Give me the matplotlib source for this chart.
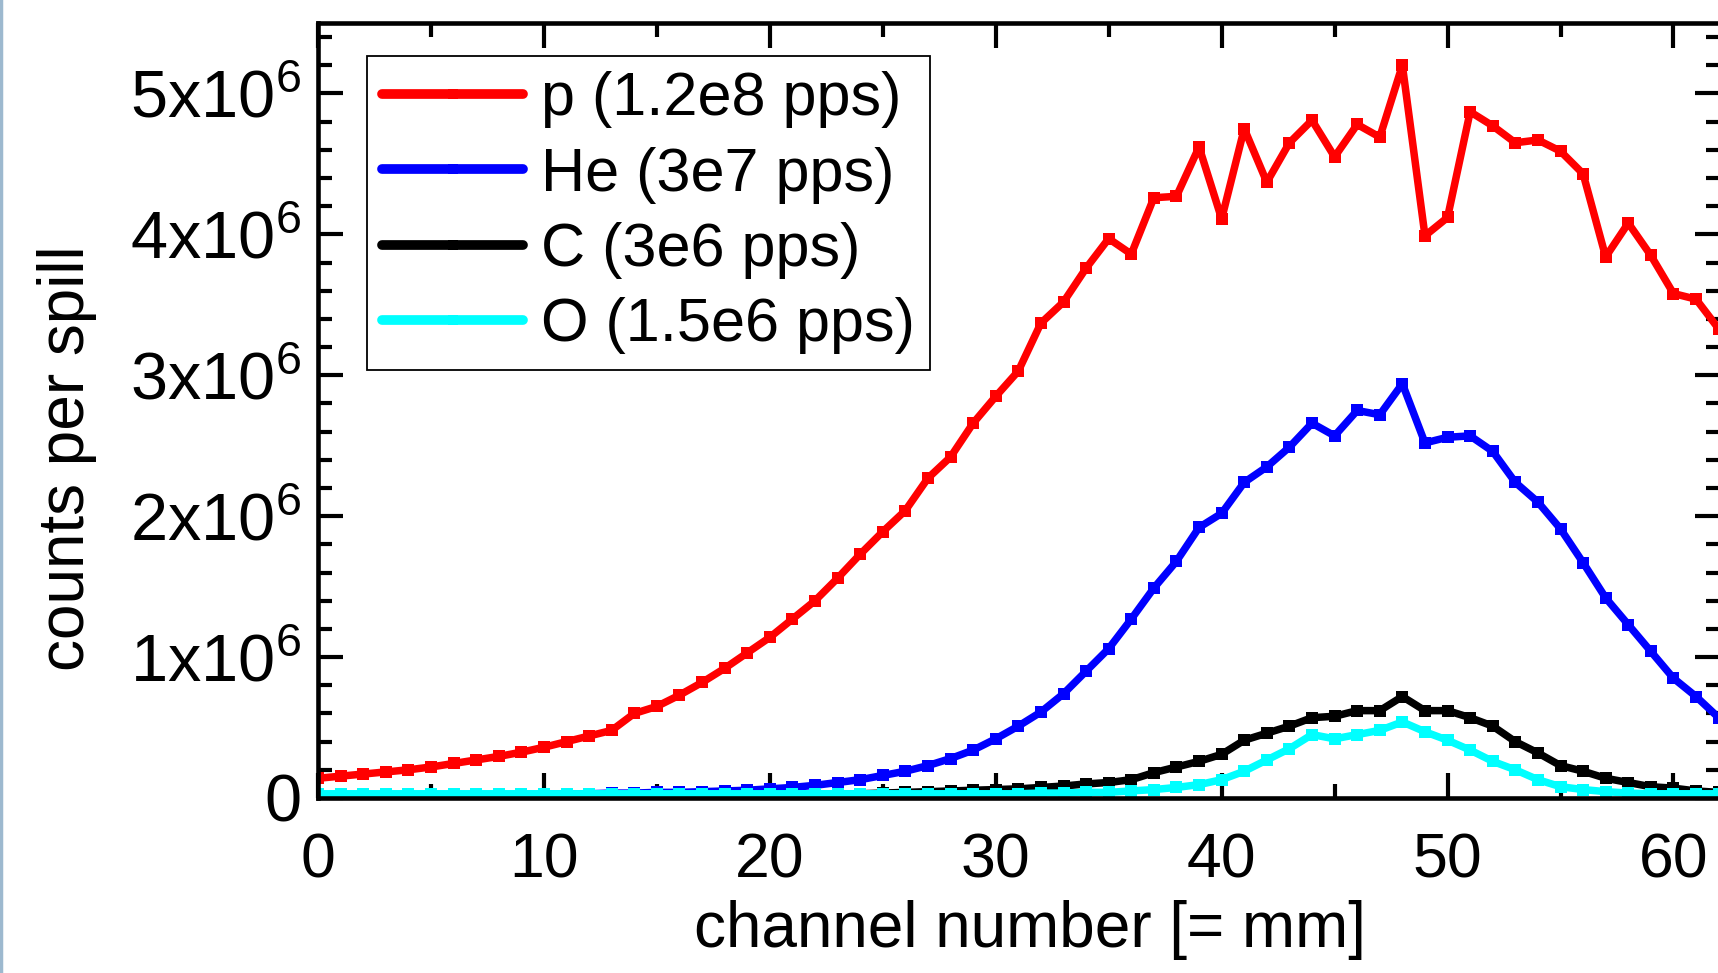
import numpy as np
import matplotlib
matplotlib.use("Agg")
import matplotlib.pyplot as plt
from matplotlib.ticker import MultipleLocator, FuncFormatter
from matplotlib.lines import Line2D
from matplotlib.transforms import ScaledTranslation

plt.rcParams['font.family'] = ['Liberation Sans', 'DejaVu Sans']
plt.rcParams['mathtext.fontset'] = 'custom'
plt.rcParams['mathtext.rm'] = 'Liberation Sans'

# channel number (= mm)
channels = np.arange(63)

# counts per spill, in units of 1e6
p_counts = [0.14, 0.155, 0.17, 0.185, 0.20, 0.22, 0.245, 0.27, 0.295, 0.325,
            0.36, 0.40, 0.44, 0.48, 0.60, 0.65, 0.73, 0.82, 0.92, 1.03,
            1.14, 1.27, 1.40, 1.56, 1.73, 1.89, 2.04, 2.27, 2.42, 2.66,
            2.85, 3.03, 3.37, 3.52, 3.76, 3.97, 3.86, 4.26, 4.27, 4.62,
            4.11, 4.75, 4.37, 4.65, 4.81, 4.55, 4.78, 4.69, 5.20, 3.99,
            4.12, 4.87, 4.77, 4.65, 4.67, 4.59, 4.43, 3.84, 4.08, 3.85,
            3.58, 3.54, 3.33]
he_counts = [0.02, 0.02, 0.02, 0.02, 0.02, 0.02, 0.02, 0.02, 0.02, 0.025,
             0.025, 0.03, 0.03, 0.035, 0.035, 0.04, 0.04, 0.045, 0.05, 0.055,
             0.065, 0.075, 0.09, 0.11, 0.13, 0.16, 0.19, 0.23, 0.28, 0.34,
             0.42, 0.51, 0.61, 0.74, 0.90, 1.06, 1.27, 1.49, 1.68, 1.92,
             2.02, 2.24, 2.35, 2.49, 2.66, 2.57, 2.75, 2.72, 2.94, 2.52,
             2.56, 2.57, 2.46, 2.24, 2.10, 1.91, 1.67, 1.42, 1.23, 1.04,
             0.85, 0.72, 0.57]
c_counts = [0.015, 0.015, 0.015, 0.015, 0.015, 0.015, 0.015, 0.015, 0.015, 0.015,
            0.015, 0.015, 0.015, 0.015, 0.015, 0.015, 0.015, 0.015, 0.015, 0.015,
            0.02, 0.02, 0.025, 0.025, 0.03, 0.035, 0.04, 0.045, 0.05, 0.055,
            0.06, 0.065, 0.075, 0.085, 0.10, 0.11, 0.13, 0.18, 0.22, 0.26,
            0.31, 0.41, 0.46, 0.51, 0.57, 0.58, 0.62, 0.62, 0.72, 0.62,
            0.62, 0.57, 0.51, 0.40, 0.32, 0.23, 0.19, 0.14, 0.11, 0.08,
            0.07, 0.05, 0.04]
o_counts = [0.03, 0.03, 0.03, 0.03, 0.03, 0.03, 0.03, 0.03, 0.03, 0.03,
            0.03, 0.03, 0.03, 0.03, 0.03, 0.03, 0.03, 0.03, 0.03, 0.03,
            0.03, 0.03, 0.03, 0.03, 0.03, 0.03, 0.03, 0.03, 0.03, 0.03,
            0.03, 0.03, 0.035, 0.035, 0.04, 0.04, 0.05, 0.06, 0.075, 0.095,
            0.13, 0.19, 0.27, 0.35, 0.45, 0.42, 0.45, 0.48, 0.54, 0.47,
            0.41, 0.34, 0.26, 0.20, 0.13, 0.08, 0.06, 0.045, 0.035, 0.03,
            0.03, 0.03, 0.03]

labels = ["p (1.2e8 pps)", "He (3e7 pps)", "C (3e6 pps)", "O (1.5e6 pps)"]
colors = ["#ff0000", "#0000ff", "#000000", "#00ffff"]
series = [p_counts, he_counts, c_counts, o_counts]

fig = plt.figure(figsize=(17.18, 9.73), dpi=100)
ax = fig.add_axes([318 / 1718, 175 / 973, 1402 / 1718, 775 / 973])

for vals, col, lab in zip(series, colors, labels):
    ax.plot(channels, np.array(vals) * 1e6, color=col, lw=5.4, marker='s',
            markersize=9, markeredgewidth=0, solid_capstyle='round',
            label=lab)

ax.set_xlim(0, 62.06)
ax.set_ylim(0, 5.5e6)

ax.xaxis.set_major_locator(MultipleLocator(10))
ax.xaxis.set_minor_locator(MultipleLocator(5))
ax.yaxis.set_major_locator(MultipleLocator(1e6))
ax.yaxis.set_minor_locator(MultipleLocator(0.2e6))


def fmt_y(v, pos):
    n = int(round(v / 1e6))
    if n == 0:
        return "0"
    return r"$\mathregular{%dx10^6}$" % n


ax.yaxis.set_major_formatter(FuncFormatter(fmt_y))

ax.tick_params(which='both', direction='in', top=True, right=True, width=3)
ax.tick_params(which='major', length=18)
ax.tick_params(which='minor', length=10)
ax.tick_params(axis='x', which='major', pad=24, labelsize=45)
ax.tick_params(axis='y', which='major', pad=12, labelsize=48)
for sp in ax.spines.values():
    sp.set_linewidth(3.3)

# the "0" label sits a little higher than its tick in the original
zero_lab = ax.yaxis.get_major_ticks()[0].label1
zero_lab.set_transform(zero_lab.get_transform()
                       + ScaledTranslation(0, 0.08, fig.dpi_scale_trans))

ax.set_xlabel("channel number [= mm]", fontsize=46)
ax.xaxis.set_label_coords((1029.5 - 318) / 1402, (798 - 900) / 775)
ax.xaxis.label.set_verticalalignment('top')
ax.set_ylabel("counts per spill", fontsize=46)
ax.yaxis.set_label_coords((97 - 318) / 1402, (798 - 458) / 775)

leg = ax.legend(loc='upper left', bbox_to_anchor=((367 - 318) / 1402, (798 - 56) / 775),
                fontsize=44, frameon=True, fancybox=False, framealpha=1,
                edgecolor='black', borderpad=0.25, handlelength=2.3,
                handletextpad=0.3, labelspacing=0.3, borderaxespad=0)
leg.get_frame().set_linewidth(1.3)
for h in leg.legend_handles:
    h.set_linewidth(7)
    h.set_markersize(7)

# thin bluish border at the left edge of the slide crop
fig.add_artist(Line2D([0.0008, 0.0008], [0, 1], color='#9db9cf', lw=2.5,
                      transform=fig.transFigure))

fig.savefig("out.png", dpi=100)
